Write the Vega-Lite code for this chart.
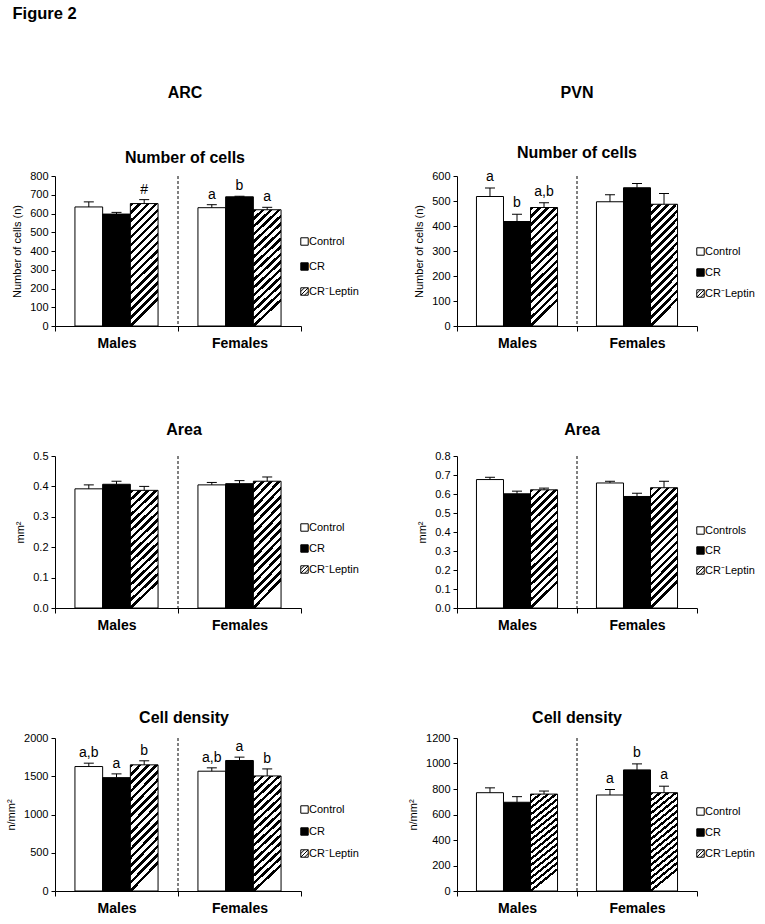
{
"$schema": "https://vega.github.io/schema/vega-lite/v6.json",
"padding": {"left": 5, "top": 6, "right": 5, "bottom": 5},
"title": {"text": "Figure 2", "anchor": "start", "fontSize": 16.5, "fontWeight": "bold", "color": "black", "offset": 62, "dx": 7},
"config": {
 "font": "Liberation Sans",
 "view": {"stroke": null},
 "axis": {"domainColor": "black", "tickColor": "black", "labelColor": "black", "titleColor": "black", "grid": false, "tickSize": 4, "labelFontSize": 11, "titleFontSize": 11, "titleFontWeight": "normal"},
 "axisX": {"labelFontSize": 14, "labelFontWeight": "bold", "labelAngle": 0, "tickBand": "extent", "tickSize": 5, "labelPadding": 5, "title": null},
 "axisY": {"titlePadding": 7, "labelPadding": 3, "labelOverlap": false},
 "title": {"fontSize": 16, "fontWeight": "bold", "color": "black", "subtitleFontSize": 16, "subtitleFontWeight": "bold", "subtitleColor": "black", "subtitleFont": "Liberation Sans", "anchor": "middle"},
 "legend": {"labelFontSize": 11, "labelColor": "black", "symbolType": "square", "symbolSize": 55, "symbolStrokeColor": "black", "symbolStrokeWidth": 1, "padding": 0, "labelOffset": -1}
},
"datasets": {"d": [
 {"panel": "ARC_N", "sex": "Males", "group": "Control", "mean": 635, "upper": 662, "label": ""},
 {"panel": "ARC_N", "sex": "Males", "group": "CR", "mean": 597, "upper": 606, "label": ""},
 {"panel": "ARC_N", "sex": "Males", "group": "CR⁻Leptin", "mean": 653, "upper": 674, "label": "#"},
 {"panel": "ARC_N", "sex": "Females", "group": "Control", "mean": 631, "upper": 647, "label": "a"},
 {"panel": "ARC_N", "sex": "Females", "group": "CR", "mean": 689, "upper": 692, "label": "b"},
 {"panel": "ARC_N", "sex": "Females", "group": "CR⁻Leptin", "mean": 620, "upper": 633, "label": "a"},
 {"panel": "PVN_N", "sex": "Males", "group": "Control", "mean": 518, "upper": 552, "label": "a"},
 {"panel": "PVN_N", "sex": "Males", "group": "CR", "mean": 418, "upper": 447, "label": "b"},
 {"panel": "PVN_N", "sex": "Males", "group": "CR⁻Leptin", "mean": 474, "upper": 493, "label": "a,b"},
 {"panel": "PVN_N", "sex": "Females", "group": "Control", "mean": 497, "upper": 525, "label": ""},
 {"panel": "PVN_N", "sex": "Females", "group": "CR", "mean": 553, "upper": 570, "label": ""},
 {"panel": "PVN_N", "sex": "Females", "group": "CR⁻Leptin", "mean": 487, "upper": 530, "label": ""},
 {"panel": "ARC_A", "sex": "Males", "group": "Control", "mean": 0.392, "upper": 0.405, "label": ""},
 {"panel": "ARC_A", "sex": "Males", "group": "CR", "mean": 0.407, "upper": 0.417, "label": ""},
 {"panel": "ARC_A", "sex": "Males", "group": "CR⁻Leptin", "mean": 0.387, "upper": 0.4, "label": ""},
 {"panel": "ARC_A", "sex": "Females", "group": "Control", "mean": 0.405, "upper": 0.413, "label": ""},
 {"panel": "ARC_A", "sex": "Females", "group": "CR", "mean": 0.409, "upper": 0.419, "label": ""},
 {"panel": "ARC_A", "sex": "Females", "group": "CR⁻Leptin", "mean": 0.417, "upper": 0.431, "label": ""},
 {"panel": "PVN_A", "sex": "Males", "group": "Controls", "mean": 0.676, "upper": 0.688, "label": ""},
 {"panel": "PVN_A", "sex": "Males", "group": "CR", "mean": 0.601, "upper": 0.615, "label": ""},
 {"panel": "PVN_A", "sex": "Males", "group": "CR⁻Leptin", "mean": 0.622, "upper": 0.631, "label": ""},
 {"panel": "PVN_A", "sex": "Females", "group": "Controls", "mean": 0.658, "upper": 0.667, "label": ""},
 {"panel": "PVN_A", "sex": "Females", "group": "CR", "mean": 0.587, "upper": 0.604, "label": ""},
 {"panel": "PVN_A", "sex": "Females", "group": "CR⁻Leptin", "mean": 0.633, "upper": 0.667, "label": ""},
 {"panel": "ARC_D", "sex": "Males", "group": "Control", "mean": 1627, "upper": 1671, "label": "a,b"},
 {"panel": "ARC_D", "sex": "Males", "group": "CR", "mean": 1482, "upper": 1531, "label": "a"},
 {"panel": "ARC_D", "sex": "Males", "group": "CR⁻Leptin", "mean": 1649, "upper": 1702, "label": "b"},
 {"panel": "ARC_D", "sex": "Females", "group": "Control", "mean": 1566, "upper": 1610, "label": "a,b"},
 {"panel": "ARC_D", "sex": "Females", "group": "CR", "mean": 1706, "upper": 1750, "label": "a"},
 {"panel": "ARC_D", "sex": "Females", "group": "CR⁻Leptin", "mean": 1504, "upper": 1596, "label": "b"},
 {"panel": "PVN_D", "sex": "Males", "group": "Control", "mean": 771, "upper": 809, "label": ""},
 {"panel": "PVN_D", "sex": "Males", "group": "CR", "mean": 696, "upper": 740, "label": ""},
 {"panel": "PVN_D", "sex": "Males", "group": "CR⁻Leptin", "mean": 760, "upper": 784, "label": ""},
 {"panel": "PVN_D", "sex": "Females", "group": "Control", "mean": 753, "upper": 796, "label": "a"},
 {"panel": "PVN_D", "sex": "Females", "group": "CR", "mean": 950, "upper": 997, "label": "b"},
 {"panel": "PVN_D", "sex": "Females", "group": "CR⁻Leptin", "mean": 771, "upper": 822, "label": "a"}
]},
"data": {"name": "d"},
"bounds": "flush",
"columns": 2,
"spacing": {"row": 130, "column": 156},
"resolve": {"scale": {"fill": "independent", "xOffset": "independent", "x": "independent", "y": "independent"}, "legend": {"fill": "independent"}, "axis": {"x": "independent", "y": "independent"}},
"concat": [
  {"width": 246, "height": 150,
   "title": {"text": "ARC", "subtitle": "Number of cells", "subtitlePadding": 49, "offset": 4, "dx": 7},
   "transform": [{"filter": "datum.panel === 'ARC_N'"}],
   "encoding": {"x": {"field": "sex", "type": "nominal", "sort": ["Males", "Females"], "scale": {"paddingInner": 0, "paddingOuter": 0}, "axis": {"title": null}}},
   "layer": [
    {"mark": {"type": "bar", "stroke": "black", "strokeWidth": 1},
     "encoding": {
      "xOffset": {"field": "group", "type": "nominal", "scale": {"domain": ["Control", "CR", "CR⁻Leptin"], "paddingInner": 0, "paddingOuter": 0.72}},
      "y": {"field": "mean", "type": "quantitative", "scale": {"domain": [0, 800], "nice": false}, "axis": {"title": "Number of cells (n)", "tickCount": 8}},
      "fill": {"field": "group", "type": "nominal", "scale": {"domain": ["Control", "CR", "CR⁻Leptin"], "range": ["white", "black", "white"]},
       "legend": {"title": null, "orient": "none", "legendX": 244, "legendY": 60, "rowPadding": 12,
        "encode": {"symbols": {"update": {"stroke": {"value": "black"}, "strokeWidth": {"value": 1}, "shape": [{"test": "datum.value === 'CR⁻Leptin'", "value": "M-1,-1H1V1H-1Z M0,-1L-1,0 M1,-1L-1,1 M1,0L0,1"}, {"value": "square"}]}}}},
       "condition": {"test": "datum.group === 'CR⁻Leptin'", "value": {"gradient": "linear", "x1": 0, "y1": 0, "x2": 0.225, "y2": 1, "stops": [{"offset":0,"color":"black"},{"offset":0.028,"color":"black"},{"offset":0.028,"color":"white"},{"offset":0.0625,"color":"white"},{"offset":0.0625,"color":"black"},{"offset":0.0906,"color":"black"},{"offset":0.0906,"color":"white"},{"offset":0.125,"color":"white"},{"offset":0.125,"color":"black"},{"offset":0.1531,"color":"black"},{"offset":0.1531,"color":"white"},{"offset":0.1875,"color":"white"},{"offset":0.1875,"color":"black"},{"offset":0.2156,"color":"black"},{"offset":0.2156,"color":"white"},{"offset":0.25,"color":"white"},{"offset":0.25,"color":"black"},{"offset":0.2781,"color":"black"},{"offset":0.2781,"color":"white"},{"offset":0.3125,"color":"white"},{"offset":0.3125,"color":"black"},{"offset":0.3406,"color":"black"},{"offset":0.3406,"color":"white"},{"offset":0.375,"color":"white"},{"offset":0.375,"color":"black"},{"offset":0.4031,"color":"black"},{"offset":0.4031,"color":"white"},{"offset":0.4375,"color":"white"},{"offset":0.4375,"color":"black"},{"offset":0.4656,"color":"black"},{"offset":0.4656,"color":"white"},{"offset":0.5,"color":"white"},{"offset":0.5,"color":"black"},{"offset":0.5281,"color":"black"},{"offset":0.5281,"color":"white"},{"offset":0.5625,"color":"white"},{"offset":0.5625,"color":"black"},{"offset":0.5906,"color":"black"},{"offset":0.5906,"color":"white"},{"offset":0.625,"color":"white"},{"offset":0.625,"color":"black"},{"offset":0.6531,"color":"black"},{"offset":0.6531,"color":"white"},{"offset":0.6875,"color":"white"},{"offset":0.6875,"color":"black"},{"offset":0.7156,"color":"black"},{"offset":0.7156,"color":"white"},{"offset":0.75,"color":"white"},{"offset":0.75,"color":"black"},{"offset":0.7781,"color":"black"},{"offset":0.7781,"color":"white"},{"offset":0.8125,"color":"white"},{"offset":0.8125,"color":"black"},{"offset":0.8406,"color":"black"},{"offset":0.8406,"color":"white"},{"offset":0.875,"color":"white"},{"offset":0.875,"color":"black"},{"offset":0.9031,"color":"black"},{"offset":0.9031,"color":"white"},{"offset":0.9375,"color":"white"},{"offset":0.9375,"color":"black"},{"offset":0.9656,"color":"black"},{"offset":0.9656,"color":"white"},{"offset":1,"color":"white"}]}}}
     }},
    {"mark": {"type": "rule", "color": "black", "strokeWidth": 1}, "encoding": {"xOffset": {"field": "group", "type": "nominal"}, "y": {"field": "mean", "type": "quantitative"}, "y2": {"field": "upper"}}},
    {"mark": {"type": "tick", "color": "black", "thickness": 1, "size": 10, "opacity": 1, "orient": "horizontal"}, "encoding": {"xOffset": {"field": "group", "type": "nominal"}, "y": {"field": "upper", "type": "quantitative"}}},
    {"mark": {"type": "text", "baseline": "alphabetic", "dy": -6, "fontSize": 14, "color": "black"}, "encoding": {"xOffset": {"field": "group", "type": "nominal"}, "y": {"field": "upper", "type": "quantitative"}, "text": {"field": "label"}}},
    {"data": {"values": [{}]}, "mark": {"type": "rule", "color": "black", "strokeWidth": 1, "strokeDash": [3, 2]}, "encoding": {"x": {"datum": "Females", "bandPosition": 0}}}
   ]},
  {"width": 240, "height": 150,
   "title": {"text": "PVN", "subtitle": "Number of cells", "subtitlePadding": 44, "offset": 5},
   "transform": [{"filter": "datum.panel === 'PVN_N'"}],
   "encoding": {"x": {"field": "sex", "type": "nominal", "sort": ["Males", "Females"], "scale": {"paddingInner": 0, "paddingOuter": 0}, "axis": {"title": null}}},
   "layer": [
    {"mark": {"type": "bar", "stroke": "black", "strokeWidth": 1},
     "encoding": {
      "xOffset": {"field": "group", "type": "nominal", "scale": {"domain": ["Control", "CR", "CR⁻Leptin"], "paddingInner": 0, "paddingOuter": 0.72}},
      "y": {"field": "mean", "type": "quantitative", "scale": {"domain": [0, 600], "nice": false}, "axis": {"title": "Number of cells (n)", "tickCount": 6}},
      "fill": {"field": "group", "type": "nominal", "scale": {"domain": ["Control", "CR", "CR⁻Leptin"], "range": ["white", "black", "white"]},
       "legend": {"title": null, "orient": "none", "legendX": 238, "legendY": 70, "rowPadding": 8,
        "encode": {"symbols": {"update": {"stroke": {"value": "black"}, "strokeWidth": {"value": 1}, "shape": [{"test": "datum.value === 'CR⁻Leptin'", "value": "M-1,-1H1V1H-1Z M0,-1L-1,0 M1,-1L-1,1 M1,0L0,1"}, {"value": "square"}]}}}},
       "condition": {"test": "datum.group === 'CR⁻Leptin'", "value": {"gradient": "linear", "x1": 0, "y1": 0, "x2": 0.225, "y2": 1, "stops": [{"offset":0,"color":"black"},{"offset":0.028,"color":"black"},{"offset":0.028,"color":"white"},{"offset":0.0625,"color":"white"},{"offset":0.0625,"color":"black"},{"offset":0.0906,"color":"black"},{"offset":0.0906,"color":"white"},{"offset":0.125,"color":"white"},{"offset":0.125,"color":"black"},{"offset":0.1531,"color":"black"},{"offset":0.1531,"color":"white"},{"offset":0.1875,"color":"white"},{"offset":0.1875,"color":"black"},{"offset":0.2156,"color":"black"},{"offset":0.2156,"color":"white"},{"offset":0.25,"color":"white"},{"offset":0.25,"color":"black"},{"offset":0.2781,"color":"black"},{"offset":0.2781,"color":"white"},{"offset":0.3125,"color":"white"},{"offset":0.3125,"color":"black"},{"offset":0.3406,"color":"black"},{"offset":0.3406,"color":"white"},{"offset":0.375,"color":"white"},{"offset":0.375,"color":"black"},{"offset":0.4031,"color":"black"},{"offset":0.4031,"color":"white"},{"offset":0.4375,"color":"white"},{"offset":0.4375,"color":"black"},{"offset":0.4656,"color":"black"},{"offset":0.4656,"color":"white"},{"offset":0.5,"color":"white"},{"offset":0.5,"color":"black"},{"offset":0.5281,"color":"black"},{"offset":0.5281,"color":"white"},{"offset":0.5625,"color":"white"},{"offset":0.5625,"color":"black"},{"offset":0.5906,"color":"black"},{"offset":0.5906,"color":"white"},{"offset":0.625,"color":"white"},{"offset":0.625,"color":"black"},{"offset":0.6531,"color":"black"},{"offset":0.6531,"color":"white"},{"offset":0.6875,"color":"white"},{"offset":0.6875,"color":"black"},{"offset":0.7156,"color":"black"},{"offset":0.7156,"color":"white"},{"offset":0.75,"color":"white"},{"offset":0.75,"color":"black"},{"offset":0.7781,"color":"black"},{"offset":0.7781,"color":"white"},{"offset":0.8125,"color":"white"},{"offset":0.8125,"color":"black"},{"offset":0.8406,"color":"black"},{"offset":0.8406,"color":"white"},{"offset":0.875,"color":"white"},{"offset":0.875,"color":"black"},{"offset":0.9031,"color":"black"},{"offset":0.9031,"color":"white"},{"offset":0.9375,"color":"white"},{"offset":0.9375,"color":"black"},{"offset":0.9656,"color":"black"},{"offset":0.9656,"color":"white"},{"offset":1,"color":"white"}]}}}
     }},
    {"mark": {"type": "rule", "color": "black", "strokeWidth": 1}, "encoding": {"xOffset": {"field": "group", "type": "nominal"}, "y": {"field": "mean", "type": "quantitative"}, "y2": {"field": "upper"}}},
    {"mark": {"type": "tick", "color": "black", "thickness": 1, "size": 10, "opacity": 1, "orient": "horizontal"}, "encoding": {"xOffset": {"field": "group", "type": "nominal"}, "y": {"field": "upper", "type": "quantitative"}}},
    {"mark": {"type": "text", "baseline": "alphabetic", "dy": -7, "fontSize": 14, "color": "black"}, "encoding": {"xOffset": {"field": "group", "type": "nominal"}, "y": {"field": "upper", "type": "quantitative"}, "text": {"field": "label"}}},
    {"data": {"values": [{}]}, "mark": {"type": "rule", "color": "black", "strokeWidth": 1, "strokeDash": [3, 2]}, "encoding": {"x": {"datum": "Females", "bandPosition": 0}}}
   ]},
   {"width": 246, "height": 152,
    "title": {"text": "Area", "offset": 12, "dx": 6},
    "transform": [{"filter": "datum.panel === 'ARC_A'"}],
    "encoding": {"x": {"field": "sex", "type": "nominal", "sort": ["Males", "Females"], "scale": {"paddingInner": 0, "paddingOuter": 0}, "axis": {"title": null}},
     "y": {"field": "mean", "type": "quantitative", "scale": {"domain": [0, 0.5], "nice": false}, "axis": {"title": "mm²", "values": [0, 0.1, 0.2, 0.3, 0.4, 0.5], "format": ".1f", "labelOverlap": false}}},
    "layer": [
     {"mark": {"type": "bar", "stroke": "black", "strokeWidth": 1},
      "encoding": {
       "xOffset": {"field": "group", "type": "nominal", "scale": {"domain": ["Control", "CR", "CR⁻Leptin"], "paddingInner": 0, "paddingOuter": 0.72}},
       "fill": {"field": "group", "type": "nominal", "scale": {"domain": ["Control", "CR", "CR⁻Leptin"], "range": ["white", "black", "white"]},
        "legend": {"title": null, "orient": "none", "legendX": 244, "legendY": 66, "rowPadding": 8,
         "encode": {"symbols": {"update": {"stroke": {"value": "black"}, "strokeWidth": {"value": 1}, "shape": [{"test": "datum.value === 'CR⁻Leptin'", "value": "M-1,-1H1V1H-1Z M0,-1L-1,0 M1,-1L-1,1 M1,0L0,1"}, {"value": "square"}]}}}},
        "condition": {"test": "datum.group === 'CR⁻Leptin'", "value": {"gradient": "linear", "x1": 0, "y1": 0, "x2": 0.225, "y2": 1, "stops": [{"offset":0,"color":"black"},{"offset":0.028,"color":"black"},{"offset":0.028,"color":"white"},{"offset":0.0625,"color":"white"},{"offset":0.0625,"color":"black"},{"offset":0.0906,"color":"black"},{"offset":0.0906,"color":"white"},{"offset":0.125,"color":"white"},{"offset":0.125,"color":"black"},{"offset":0.1531,"color":"black"},{"offset":0.1531,"color":"white"},{"offset":0.1875,"color":"white"},{"offset":0.1875,"color":"black"},{"offset":0.2156,"color":"black"},{"offset":0.2156,"color":"white"},{"offset":0.25,"color":"white"},{"offset":0.25,"color":"black"},{"offset":0.2781,"color":"black"},{"offset":0.2781,"color":"white"},{"offset":0.3125,"color":"white"},{"offset":0.3125,"color":"black"},{"offset":0.3406,"color":"black"},{"offset":0.3406,"color":"white"},{"offset":0.375,"color":"white"},{"offset":0.375,"color":"black"},{"offset":0.4031,"color":"black"},{"offset":0.4031,"color":"white"},{"offset":0.4375,"color":"white"},{"offset":0.4375,"color":"black"},{"offset":0.4656,"color":"black"},{"offset":0.4656,"color":"white"},{"offset":0.5,"color":"white"},{"offset":0.5,"color":"black"},{"offset":0.5281,"color":"black"},{"offset":0.5281,"color":"white"},{"offset":0.5625,"color":"white"},{"offset":0.5625,"color":"black"},{"offset":0.5906,"color":"black"},{"offset":0.5906,"color":"white"},{"offset":0.625,"color":"white"},{"offset":0.625,"color":"black"},{"offset":0.6531,"color":"black"},{"offset":0.6531,"color":"white"},{"offset":0.6875,"color":"white"},{"offset":0.6875,"color":"black"},{"offset":0.7156,"color":"black"},{"offset":0.7156,"color":"white"},{"offset":0.75,"color":"white"},{"offset":0.75,"color":"black"},{"offset":0.7781,"color":"black"},{"offset":0.7781,"color":"white"},{"offset":0.8125,"color":"white"},{"offset":0.8125,"color":"black"},{"offset":0.8406,"color":"black"},{"offset":0.8406,"color":"white"},{"offset":0.875,"color":"white"},{"offset":0.875,"color":"black"},{"offset":0.9031,"color":"black"},{"offset":0.9031,"color":"white"},{"offset":0.9375,"color":"white"},{"offset":0.9375,"color":"black"},{"offset":0.9656,"color":"black"},{"offset":0.9656,"color":"white"},{"offset":1,"color":"white"}]}}}
      }},
     {"mark": {"type": "rule", "color": "black", "strokeWidth": 1}, "encoding": {"xOffset": {"field": "group", "type": "nominal"}, "y2": {"field": "upper"}}},
     {"mark": {"type": "tick", "color": "black", "thickness": 1, "size": 10, "opacity": 1, "orient": "horizontal"}, "encoding": {"xOffset": {"field": "group", "type": "nominal"}, "y": {"field": "upper", "type": "quantitative"}}},
     {"data": {"values": [{}]}, "mark": {"type": "rule", "color": "black", "strokeWidth": 1, "strokeDash": [3, 2]}, "encoding": {"x": {"datum": "Females", "bandPosition": 0}, "y": null}}
    ]},
   {"width": 240, "height": 152,
    "title": {"text": "Area", "offset": 12, "dx": 5},
    "transform": [{"filter": "datum.panel === 'PVN_A'"}],
    "encoding": {"x": {"field": "sex", "type": "nominal", "sort": ["Males", "Females"], "scale": {"paddingInner": 0, "paddingOuter": 0}, "axis": {"title": null}}},
    "layer": [
     {"mark": {"type": "bar", "stroke": "black", "strokeWidth": 1},
      "encoding": {
       "xOffset": {"field": "group", "type": "nominal", "scale": {"domain": ["Controls", "CR", "CR⁻Leptin"], "paddingInner": 0, "paddingOuter": 0.72}},
       "y": {"field": "mean", "type": "quantitative", "scale": {"domain": [0, 0.8], "nice": false}, "axis": {"title": "mm²", "tickCount": 8, "format": ".1f"}},
       "fill": {"field": "group", "type": "nominal", "scale": {"domain": ["Controls", "CR", "CR⁻Leptin"], "range": ["white", "black", "white"]},
        "legend": {"title": null, "orient": "none", "legendX": 238, "legendY": 69, "rowPadding": 7,
         "encode": {"symbols": {"update": {"stroke": {"value": "black"}, "strokeWidth": {"value": 1}, "shape": [{"test": "datum.value === 'CR⁻Leptin'", "value": "M-1,-1H1V1H-1Z M0,-1L-1,0 M1,-1L-1,1 M1,0L0,1"}, {"value": "square"}]}}}},
        "condition": {"test": "datum.group === 'CR⁻Leptin'", "value": {"gradient": "linear", "x1": 0, "y1": 0, "x2": 0.225, "y2": 1, "stops": [{"offset":0,"color":"black"},{"offset":0.028,"color":"black"},{"offset":0.028,"color":"white"},{"offset":0.0625,"color":"white"},{"offset":0.0625,"color":"black"},{"offset":0.0906,"color":"black"},{"offset":0.0906,"color":"white"},{"offset":0.125,"color":"white"},{"offset":0.125,"color":"black"},{"offset":0.1531,"color":"black"},{"offset":0.1531,"color":"white"},{"offset":0.1875,"color":"white"},{"offset":0.1875,"color":"black"},{"offset":0.2156,"color":"black"},{"offset":0.2156,"color":"white"},{"offset":0.25,"color":"white"},{"offset":0.25,"color":"black"},{"offset":0.2781,"color":"black"},{"offset":0.2781,"color":"white"},{"offset":0.3125,"color":"white"},{"offset":0.3125,"color":"black"},{"offset":0.3406,"color":"black"},{"offset":0.3406,"color":"white"},{"offset":0.375,"color":"white"},{"offset":0.375,"color":"black"},{"offset":0.4031,"color":"black"},{"offset":0.4031,"color":"white"},{"offset":0.4375,"color":"white"},{"offset":0.4375,"color":"black"},{"offset":0.4656,"color":"black"},{"offset":0.4656,"color":"white"},{"offset":0.5,"color":"white"},{"offset":0.5,"color":"black"},{"offset":0.5281,"color":"black"},{"offset":0.5281,"color":"white"},{"offset":0.5625,"color":"white"},{"offset":0.5625,"color":"black"},{"offset":0.5906,"color":"black"},{"offset":0.5906,"color":"white"},{"offset":0.625,"color":"white"},{"offset":0.625,"color":"black"},{"offset":0.6531,"color":"black"},{"offset":0.6531,"color":"white"},{"offset":0.6875,"color":"white"},{"offset":0.6875,"color":"black"},{"offset":0.7156,"color":"black"},{"offset":0.7156,"color":"white"},{"offset":0.75,"color":"white"},{"offset":0.75,"color":"black"},{"offset":0.7781,"color":"black"},{"offset":0.7781,"color":"white"},{"offset":0.8125,"color":"white"},{"offset":0.8125,"color":"black"},{"offset":0.8406,"color":"black"},{"offset":0.8406,"color":"white"},{"offset":0.875,"color":"white"},{"offset":0.875,"color":"black"},{"offset":0.9031,"color":"black"},{"offset":0.9031,"color":"white"},{"offset":0.9375,"color":"white"},{"offset":0.9375,"color":"black"},{"offset":0.9656,"color":"black"},{"offset":0.9656,"color":"white"},{"offset":1,"color":"white"}]}}}
      }},
     {"mark": {"type": "rule", "color": "black", "strokeWidth": 1}, "encoding": {"xOffset": {"field": "group", "type": "nominal"}, "y": {"field": "mean", "type": "quantitative"}, "y2": {"field": "upper"}}},
     {"mark": {"type": "tick", "color": "black", "thickness": 1, "size": 10, "opacity": 1, "orient": "horizontal"}, "encoding": {"xOffset": {"field": "group", "type": "nominal"}, "y": {"field": "upper", "type": "quantitative"}}},
     {"data": {"values": [{}]}, "mark": {"type": "rule", "color": "black", "strokeWidth": 1, "strokeDash": [3, 2]}, "encoding": {"x": {"datum": "Females", "bandPosition": 0}}}
    ]},
   {"width": 246, "height": 153,
    "title": {"text": "Cell density", "offset": 6, "dx": 6},
    "transform": [{"filter": "datum.panel === 'ARC_D'"}],
    "encoding": {"x": {"field": "sex", "type": "nominal", "sort": ["Males", "Females"], "scale": {"paddingInner": 0, "paddingOuter": 0}, "axis": {"title": null}}},
    "layer": [
     {"mark": {"type": "bar", "stroke": "black", "strokeWidth": 1},
      "encoding": {
       "xOffset": {"field": "group", "type": "nominal", "scale": {"domain": ["Control", "CR", "CR⁻Leptin"], "paddingInner": 0, "paddingOuter": 0.72}},
       "y": {"field": "mean", "type": "quantitative", "scale": {"domain": [0, 2000], "nice": false}, "axis": {"title": "n/mm²", "tickCount": 4, "format": "d"}},
       "fill": {"field": "group", "type": "nominal", "scale": {"domain": ["Control", "CR", "CR⁻Leptin"], "range": ["white", "black", "white"]},
        "legend": {"title": null, "orient": "none", "legendX": 244, "legendY": 66, "rowPadding": 9,
         "encode": {"symbols": {"update": {"stroke": {"value": "black"}, "strokeWidth": {"value": 1}, "shape": [{"test": "datum.value === 'CR⁻Leptin'", "value": "M-1,-1H1V1H-1Z M0,-1L-1,0 M1,-1L-1,1 M1,0L0,1"}, {"value": "square"}]}}}},
        "condition": {"test": "datum.group === 'CR⁻Leptin'", "value": {"gradient": "linear", "x1": 0, "y1": 0, "x2": 0.225, "y2": 1, "stops": [{"offset":0,"color":"black"},{"offset":0.028,"color":"black"},{"offset":0.028,"color":"white"},{"offset":0.0625,"color":"white"},{"offset":0.0625,"color":"black"},{"offset":0.0906,"color":"black"},{"offset":0.0906,"color":"white"},{"offset":0.125,"color":"white"},{"offset":0.125,"color":"black"},{"offset":0.1531,"color":"black"},{"offset":0.1531,"color":"white"},{"offset":0.1875,"color":"white"},{"offset":0.1875,"color":"black"},{"offset":0.2156,"color":"black"},{"offset":0.2156,"color":"white"},{"offset":0.25,"color":"white"},{"offset":0.25,"color":"black"},{"offset":0.2781,"color":"black"},{"offset":0.2781,"color":"white"},{"offset":0.3125,"color":"white"},{"offset":0.3125,"color":"black"},{"offset":0.3406,"color":"black"},{"offset":0.3406,"color":"white"},{"offset":0.375,"color":"white"},{"offset":0.375,"color":"black"},{"offset":0.4031,"color":"black"},{"offset":0.4031,"color":"white"},{"offset":0.4375,"color":"white"},{"offset":0.4375,"color":"black"},{"offset":0.4656,"color":"black"},{"offset":0.4656,"color":"white"},{"offset":0.5,"color":"white"},{"offset":0.5,"color":"black"},{"offset":0.5281,"color":"black"},{"offset":0.5281,"color":"white"},{"offset":0.5625,"color":"white"},{"offset":0.5625,"color":"black"},{"offset":0.5906,"color":"black"},{"offset":0.5906,"color":"white"},{"offset":0.625,"color":"white"},{"offset":0.625,"color":"black"},{"offset":0.6531,"color":"black"},{"offset":0.6531,"color":"white"},{"offset":0.6875,"color":"white"},{"offset":0.6875,"color":"black"},{"offset":0.7156,"color":"black"},{"offset":0.7156,"color":"white"},{"offset":0.75,"color":"white"},{"offset":0.75,"color":"black"},{"offset":0.7781,"color":"black"},{"offset":0.7781,"color":"white"},{"offset":0.8125,"color":"white"},{"offset":0.8125,"color":"black"},{"offset":0.8406,"color":"black"},{"offset":0.8406,"color":"white"},{"offset":0.875,"color":"white"},{"offset":0.875,"color":"black"},{"offset":0.9031,"color":"black"},{"offset":0.9031,"color":"white"},{"offset":0.9375,"color":"white"},{"offset":0.9375,"color":"black"},{"offset":0.9656,"color":"black"},{"offset":0.9656,"color":"white"},{"offset":1,"color":"white"}]}}}
      }},
     {"mark": {"type": "rule", "color": "black", "strokeWidth": 1}, "encoding": {"xOffset": {"field": "group", "type": "nominal"}, "y": {"field": "mean", "type": "quantitative"}, "y2": {"field": "upper"}}},
     {"mark": {"type": "tick", "color": "black", "thickness": 1, "size": 10, "opacity": 1, "orient": "horizontal"}, "encoding": {"xOffset": {"field": "group", "type": "nominal"}, "y": {"field": "upper", "type": "quantitative"}}},
     {"mark": {"type": "text", "baseline": "alphabetic", "dy": -6, "fontSize": 14, "color": "black"}, "encoding": {"xOffset": {"field": "group", "type": "nominal"}, "y": {"field": "upper", "type": "quantitative"}, "text": {"field": "label"}}},
     {"data": {"values": [{}]}, "mark": {"type": "rule", "color": "black", "strokeWidth": 1, "strokeDash": [3, 2]}, "encoding": {"x": {"datum": "Females", "bandPosition": 0}}}
    ]},
   {"width": 240, "height": 153,
    "title": {"text": "Cell density", "offset": 6},
    "transform": [{"filter": "datum.panel === 'PVN_D'"}],
    "encoding": {"x": {"field": "sex", "type": "nominal", "sort": ["Males", "Females"], "scale": {"paddingInner": 0, "paddingOuter": 0}, "axis": {"title": null}}},
    "layer": [
     {"mark": {"type": "bar", "stroke": "black", "strokeWidth": 1},
      "encoding": {
       "xOffset": {"field": "group", "type": "nominal", "scale": {"domain": ["Control", "CR", "CR⁻Leptin"], "paddingInner": 0, "paddingOuter": 0.72}},
       "y": {"field": "mean", "type": "quantitative", "scale": {"domain": [0, 1200], "nice": false}, "axis": {"title": "n/mm²", "tickCount": 6, "format": "d"}},
       "fill": {"field": "group", "type": "nominal", "scale": {"domain": ["Control", "CR", "CR⁻Leptin"], "range": ["white", "black", "white"]},
        "legend": {"title": null, "orient": "none", "legendX": 238, "legendY": 68, "rowPadding": 8,
         "encode": {"symbols": {"update": {"stroke": {"value": "black"}, "strokeWidth": {"value": 1}, "shape": [{"test": "datum.value === 'CR⁻Leptin'", "value": "M-1,-1H1V1H-1Z M0,-1L-1,0 M1,-1L-1,1 M1,0L0,1"}, {"value": "square"}]}}}},
        "condition": {"test": "datum.group === 'CR⁻Leptin'", "value": {"gradient": "linear", "x1": 0, "y1": 0, "x2": 0.225, "y2": 1, "stops": [{"offset":0,"color":"black"},{"offset":0.028,"color":"black"},{"offset":0.028,"color":"white"},{"offset":0.0625,"color":"white"},{"offset":0.0625,"color":"black"},{"offset":0.0906,"color":"black"},{"offset":0.0906,"color":"white"},{"offset":0.125,"color":"white"},{"offset":0.125,"color":"black"},{"offset":0.1531,"color":"black"},{"offset":0.1531,"color":"white"},{"offset":0.1875,"color":"white"},{"offset":0.1875,"color":"black"},{"offset":0.2156,"color":"black"},{"offset":0.2156,"color":"white"},{"offset":0.25,"color":"white"},{"offset":0.25,"color":"black"},{"offset":0.2781,"color":"black"},{"offset":0.2781,"color":"white"},{"offset":0.3125,"color":"white"},{"offset":0.3125,"color":"black"},{"offset":0.3406,"color":"black"},{"offset":0.3406,"color":"white"},{"offset":0.375,"color":"white"},{"offset":0.375,"color":"black"},{"offset":0.4031,"color":"black"},{"offset":0.4031,"color":"white"},{"offset":0.4375,"color":"white"},{"offset":0.4375,"color":"black"},{"offset":0.4656,"color":"black"},{"offset":0.4656,"color":"white"},{"offset":0.5,"color":"white"},{"offset":0.5,"color":"black"},{"offset":0.5281,"color":"black"},{"offset":0.5281,"color":"white"},{"offset":0.5625,"color":"white"},{"offset":0.5625,"color":"black"},{"offset":0.5906,"color":"black"},{"offset":0.5906,"color":"white"},{"offset":0.625,"color":"white"},{"offset":0.625,"color":"black"},{"offset":0.6531,"color":"black"},{"offset":0.6531,"color":"white"},{"offset":0.6875,"color":"white"},{"offset":0.6875,"color":"black"},{"offset":0.7156,"color":"black"},{"offset":0.7156,"color":"white"},{"offset":0.75,"color":"white"},{"offset":0.75,"color":"black"},{"offset":0.7781,"color":"black"},{"offset":0.7781,"color":"white"},{"offset":0.8125,"color":"white"},{"offset":0.8125,"color":"black"},{"offset":0.8406,"color":"black"},{"offset":0.8406,"color":"white"},{"offset":0.875,"color":"white"},{"offset":0.875,"color":"black"},{"offset":0.9031,"color":"black"},{"offset":0.9031,"color":"white"},{"offset":0.9375,"color":"white"},{"offset":0.9375,"color":"black"},{"offset":0.9656,"color":"black"},{"offset":0.9656,"color":"white"},{"offset":1,"color":"white"}]}}}
      }},
     {"mark": {"type": "rule", "color": "black", "strokeWidth": 1}, "encoding": {"xOffset": {"field": "group", "type": "nominal"}, "y": {"field": "mean", "type": "quantitative"}, "y2": {"field": "upper"}}},
     {"mark": {"type": "tick", "color": "black", "thickness": 1, "size": 10, "opacity": 1, "orient": "horizontal"}, "encoding": {"xOffset": {"field": "group", "type": "nominal"}, "y": {"field": "upper", "type": "quantitative"}}},
     {"mark": {"type": "text", "baseline": "alphabetic", "dy": -7, "fontSize": 14, "color": "black"}, "encoding": {"xOffset": {"field": "group", "type": "nominal"}, "y": {"field": "upper", "type": "quantitative"}, "text": {"field": "label"}}},
     {"data": {"values": [{}]}, "mark": {"type": "rule", "color": "black", "strokeWidth": 1, "strokeDash": [3, 2]}, "encoding": {"x": {"datum": "Females", "bandPosition": 0}}}
    ]}
]
}
